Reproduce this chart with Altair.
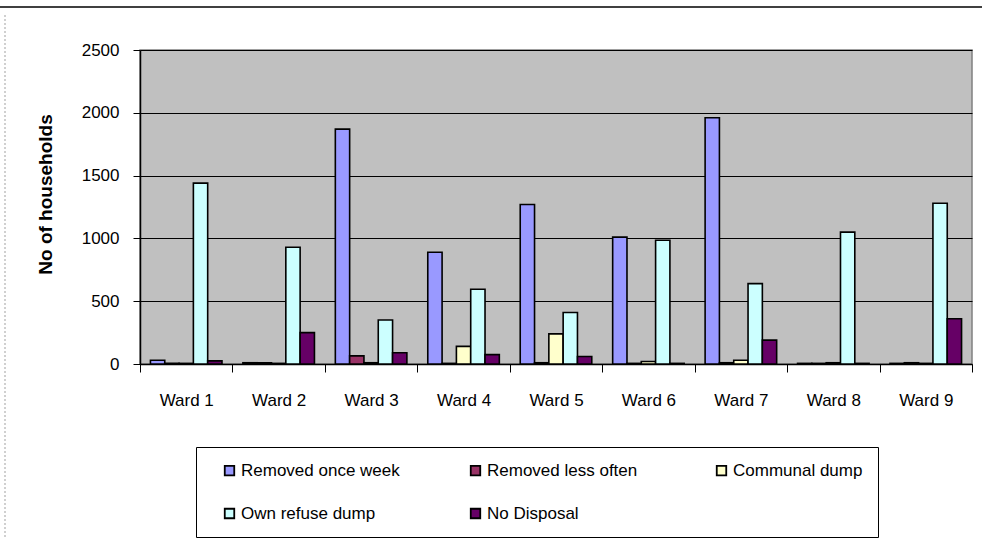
import altair as alt
import pandas as pd

wards = ["Ward 1", "Ward 2", "Ward 3", "Ward 4", "Ward 5", "Ward 6", "Ward 7", "Ward 8", "Ward 9"]
series = ["Removed once week", "Removed less often", "Communal dump", "Own refuse dump", "No Disposal"]
removed_once_week = [30, 10, 1870, 890, 1270, 1010, 1960, 5, 5]
removed_less_often = [5, 10, 65, 5, 10, 5, 10, 5, 10]
communal_dump = [5, 5, 10, 140, 240, 20, 30, 10, 5]
own_refuse_dump = [1440, 930, 350, 595, 410, 985, 640, 1050, 1280]
no_disposal = [25, 250, 90, 75, 60, 5, 190, 5, 360]
colors = ["#9999FF", "#993366", "#FFFFCC", "#CCFFFF", "#660066"]

rows = []
for s, vals in zip(series, [removed_once_week, removed_less_often, communal_dump, own_refuse_dump, no_disposal]):
    for w, v in zip(wards, vals):
        rows.append({"Ward": w, "Method": s, "Households": v})
df = pd.DataFrame(rows)

FONT = "Liberation Sans"

bars = alt.Chart(df).mark_bar(stroke="black", strokeWidth=1.6).encode(
    x=alt.X("Ward:N", sort=wards, title=None,
            scale=alt.Scale(paddingInner=0, paddingOuter=0),
            axis=alt.Axis(labelAngle=0, labelFont=FONT, labelFontSize=17, labelColor="black",
                          labelPadding=20, tickBand="extent", tickColor="black", tickSize=8,
                          domainColor="black", domainWidth=1.5)),
    xOffset=alt.XOffset("Method:N", sort=series,
                        scale=alt.Scale(paddingOuter=0.73, paddingInner=0)),
    y=alt.Y("Households:Q", title="No of households",
            scale=alt.Scale(domain=[0, 2500], nice=False),
            axis=alt.Axis(values=[0, 500, 1000, 1500, 2000, 2500], format="d",
                          labelFont=FONT, labelFontSize=17,
                          labelColor="black", labelPadding=14, tickColor="black", tickSize=7,
                          domainColor="black", domainWidth=1.5, gridColor="black", gridWidth=1,
                          titleFont=FONT, titleFontSize=19, titleFontWeight="bold",
                          titleColor="black", titlePadding=26, titleY=144)),
    color=alt.Color("Method:N", sort=series, title=None,
                    scale=alt.Scale(domain=series, range=colors),
                    legend=alt.Legend(orient="none", legendX=56, legendY=397, columns=3,
                                      direction="horizontal", gridAlign="all",
                                      symbolType="square", symbolSize=90, symbolStrokeColor="black",
                                      symbolStrokeWidth=1.8, symbolOpacity=1,
                                      labelFont=FONT, labelFontSize=17, labelColor="black",
                                      labelLimit=300, columnPadding=57, rowPadding=25,
                                      padding=15, strokeColor="black", fillColor="white",
                                      symbolOffset=10, labelOffset=3)),
)

frame_top = alt.Chart(df).mark_rule(color="#404040", strokeWidth=1.5).encode(
    x=alt.value(-140), x2=alt.value(842), y=alt.value(-43)
)
frame_left = alt.Chart(df).mark_rule(color="#D0D0D0", strokeWidth=1.5, strokeDash=[2, 2]).encode(
    x=alt.value(-135), y=alt.value(-35), y2=alt.value(489)
)

chart = alt.layer(bars, frame_top, frame_left).properties(
    width=832, height=314,
    padding={"left": 140, "top": 50, "right": 10, "bottom": 175},
    autosize=alt.AutoSizeParams(type="none"),
).configure_view(
    fill="#C0C0C0", stroke="#808080", strokeWidth=1.5
)

chart.save("out.html", embed_options={"renderer": "svg", "actions": False})
